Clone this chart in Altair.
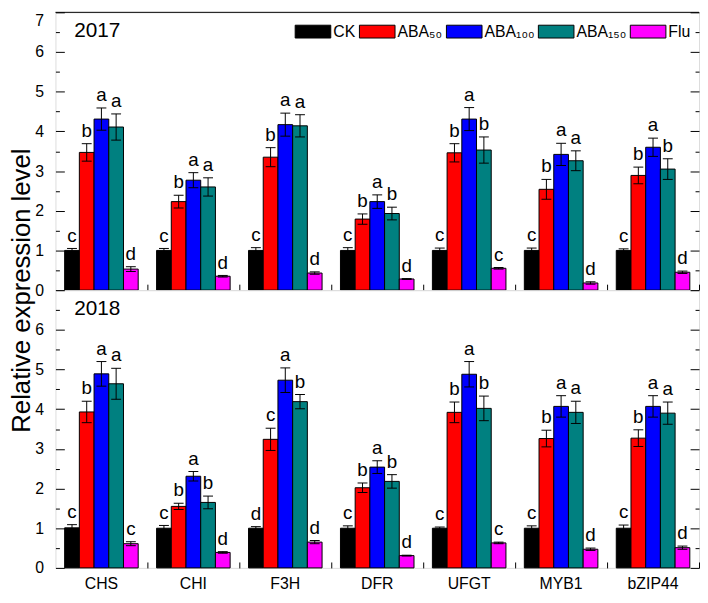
import altair as alt
import pandas as pd

genes = ["CHS", "CHI", "F3H", "DFR", "UFGT", "MYB1", "bZIP44"]
treatments = ["CK", "ABA₅₀", "ABA₁₀₀", "ABA₁₅₀", "Flu"]
colors = ["#000000", "#FF0000", "#0000FF", "#008080", "#FF00FF"]

# 2017 means (rows: treatments, cols: genes)
ck_2017 = [1.00, 1.00, 1.00, 1.00, 1.00, 1.00, 1.00]
aba50_2017 = [3.47, 2.23, 3.35, 1.79, 3.46, 2.54, 2.89]
aba100_2017 = [4.31, 2.77, 4.17, 2.23, 4.31, 3.42, 3.60]
aba150_2017 = [4.11, 2.60, 4.14, 1.93, 3.53, 3.26, 3.05]
flu_2017 = [0.53, 0.35, 0.43, 0.28, 0.55, 0.18, 0.45]
# 2017 errors
ck_err_2017 = [0.05, 0.05, 0.07, 0.07, 0.06, 0.06, 0.04]
aba50_err_2017 = [0.22, 0.16, 0.24, 0.13, 0.23, 0.25, 0.21]
aba100_err_2017 = [0.28, 0.19, 0.29, 0.17, 0.29, 0.28, 0.23]
aba150_err_2017 = [0.33, 0.23, 0.28, 0.16, 0.33, 0.25, 0.26]
flu_err_2017 = [0.06, 0.02, 0.03, 0.01, 0.02, 0.03, 0.03]
# 2017 letters
ck_let_2017 = ["c", "c", "c", "c", "c", "c", "c"]
aba50_let_2017 = ["b", "b", "b", "b", "b", "b", "b"]
aba100_let_2017 = ["a", "a", "a", "a", "a", "a", "a"]
aba150_let_2017 = ["a", "a", "a", "b", "b", "a", "b"]
flu_let_2017 = ["d", "d", "d", "d", "c", "d", "d"]

# 2018 means
ck_2018 = [1.01, 1.00, 1.00, 1.00, 1.00, 1.00, 1.00]
aba50_2018 = [3.93, 1.55, 3.24, 2.02, 3.92, 3.26, 3.27]
aba100_2018 = [4.89, 2.31, 4.73, 2.54, 4.88, 4.07, 4.07]
aba150_2018 = [4.64, 1.65, 4.19, 2.18, 4.02, 3.92, 3.90]
flu_2018 = [0.61, 0.39, 0.65, 0.31, 0.63, 0.47, 0.51]
# 2018 errors
ck_err_2018 = [0.08, 0.07, 0.04, 0.06, 0.03, 0.06, 0.08]
aba50_err_2018 = [0.27, 0.08, 0.28, 0.12, 0.26, 0.21, 0.21]
aba100_err_2018 = [0.31, 0.12, 0.31, 0.16, 0.32, 0.27, 0.27]
aba150_err_2018 = [0.39, 0.16, 0.18, 0.17, 0.31, 0.28, 0.28]
flu_err_2018 = [0.05, 0.02, 0.04, 0.01, 0.02, 0.03, 0.04]
# 2018 letters
ck_let_2018 = ["c", "c", "d", "c", "c", "c", "c"]
aba50_let_2018 = ["b", "b", "c", "b", "b", "b", "b"]
aba100_let_2018 = ["a", "a", "a", "a", "a", "a", "a"]
aba150_let_2018 = ["a", "b", "b", "b", "b", "a", "a"]
flu_let_2018 = ["c", "d", "d", "d", "c", "d", "d"]

y_ticks_major = [0, 1, 2, 3, 4, 5, 6, 7]
y_ticks_minor = [0.5, 1.5, 2.5, 3.5, 4.5, 5.5, 6.5]
y_top = [7]

FONT = "Liberation Sans"
W = 651
H = 281


def build(means, errs, letters):
    rows = []
    for t, m, e, l in zip(treatments, means, errs, letters):
        for g, mv, ev, lv in zip(genes, m, e, l):
            rows.append(dict(gene=g, treatment=t, mean=mv, lo=mv - ev, hi=mv + ev, letter=lv))
    return pd.DataFrame(rows)


df17 = build([ck_2017, aba50_2017, aba100_2017, aba150_2017, flu_2017],
             [ck_err_2017, aba50_err_2017, aba100_err_2017, aba150_err_2017, flu_err_2017],
             [ck_let_2017, aba50_let_2017, aba100_let_2017, aba150_let_2017, flu_let_2017])
df18 = build([ck_2018, aba50_2018, aba100_2018, aba150_2018, flu_2018],
             [ck_err_2018, aba50_err_2018, aba100_err_2018, aba150_err_2018, flu_err_2018],
             [ck_let_2018, aba50_let_2018, aba100_let_2018, aba150_let_2018, flu_let_2018])

x_scale = alt.Scale(domain=genes, paddingInner=0.2, paddingOuter=0.1)
y_scale = alt.Scale(domain=[0, 7], nice=False, zero=True)
xoff = alt.XOffset("treatment:N", sort=treatments,
                   scale=alt.Scale(domain=treatments, paddingInner=0, paddingOuter=0))

legend = alt.Legend(
    orient="none", legendX=242, legendY=1, direction="horizontal", columns=5,
    title=None, symbolType="M-1,-0.36H1V0.36H-1Z", symbolSize=1296,
    symbolStrokeColor="black", symbolStrokeWidth=1, symbolOpacity=1,
    labelFont=FONT, labelFontSize=16, labelColor="black", labelOffset=2,
    columnPadding=1, padding=0,
)
color = alt.Color("treatment:N", sort=treatments,
                  scale=alt.Scale(domain=treatments, range=colors), legend=legend)


def inner_y_axis(orient, values, size):
    return alt.Axis(orient=orient, offset=-W, values=values, tickSize=size, tickColor="black",
                    tickWidth=1, labels=False, domain=False, grid=False, title=None)


def panel(df, year, top):
    base = alt.Chart(df)
    if top:
        x_lab_axis = None
    else:
        x_lab_axis = alt.Axis(orient="bottom", labelFont=FONT, labelFontSize=16, labelColor="black",
                              labelPadding=8, labelAngle=0, ticks=False, tickSize=0, domain=False,
                              grid=False, title=None)
    x_tick_axis = alt.Axis(orient="top", offset=-H, bandPosition=1.125, tickSize=6, tickColor="black",
                           labels=False, domain=False, grid=False, title=None)
    y_lab_axis = alt.Axis(
        orient="left", values=y_ticks_major[:-1], ticks=False, tickSize=0, domain=False, grid=False,
        labelFont=FONT, labelFontSize=16, labelColor="black", labelPadding=12,
        title="Relative expression level" if top else None,
        titleFont=FONT, titleFontSize=26, titleFontWeight="normal", titleColor="black",
        titleX=-26, titleY=H, titleBaseline="alphabetic",
    )
    bars = base.mark_bar(stroke="black", strokeWidth=1).encode(
        x=alt.X("gene:N", sort=genes, scale=x_scale, axis=x_lab_axis),
        xOffset=xoff,
        y=alt.Y("mean:Q", scale=y_scale, axis=y_lab_axis),
        color=color,
    )
    rules = base.mark_rule(color="black", strokeWidth=1).encode(
        x=alt.X("gene:N", sort=genes, scale=x_scale, axis=x_tick_axis),
        xOffset=xoff,
        y=alt.Y("lo:Q", scale=y_scale, axis=inner_y_axis("right", y_ticks_major, 9)),
        y2="hi:Q",
    )
    cap_lo = base.mark_tick(color="black", thickness=1, size=10, opacity=1).encode(
        x=alt.X("gene:N", sort=genes, scale=x_scale, axis=None),
        xOffset=xoff,
        y=alt.Y("lo:Q", scale=y_scale, axis=inner_y_axis("right", y_ticks_minor, 4)),
    )
    cap_hi = base.mark_tick(color="black", thickness=1, size=10, opacity=1).encode(
        x=alt.X("gene:N", sort=genes, scale=x_scale, axis=None),
        xOffset=xoff,
        y=alt.Y("hi:Q", scale=y_scale, axis=inner_y_axis("left", y_ticks_major, 9)),
    )
    letters = base.mark_text(font=FONT, fontSize=19, color="black", baseline="alphabetic", dy=-7).encode(
        x=alt.X("gene:N", sort=genes, scale=x_scale, axis=None),
        xOffset=xoff,
        y=alt.Y("hi:Q", scale=y_scale, axis=inner_y_axis("left", y_ticks_minor, 4)),
        text="letter:N",
    )
    year_txt = alt.Chart(pd.DataFrame({"label": [year]})).mark_text(
        font=FONT, fontSize=21, color="black", align="left", baseline="alphabetic"
    ).encode(x=alt.value(19), y=alt.value(25), text="label:N")
    layers = [bars, rules, cap_lo, cap_hi, letters, year_txt]
    if top:
        top_edge = alt.Chart(pd.DataFrame({"v": y_top})).mark_rule(color="black", strokeWidth=1).encode(
            y=alt.Y("v:Q", scale=y_scale, axis=alt.Axis(
                orient="left", values=y_top, ticks=False, tickSize=0, domain=False, grid=False,
                labelFont=FONT, labelFontSize=16, labelColor="black", labelPadding=12,
                labelBaseline="top", title=None)),
        )
        layers.append(top_edge)
    return alt.layer(*layers).resolve_axis(
        x="independent", y="independent"
    ).properties(width=W, height=H)


top = panel(df17, "2017", True)
bottom = panel(df18, "2018", False)

chart = alt.vconcat(top, bottom, spacing=0, bounds="flush").properties(
    padding={"left": 0, "top": 0, "right": 0, "bottom": -3}
).configure_view(stroke="black", strokeWidth=1.2).configure(background="white")

chart.save("out.html", embed_options={"renderer": "svg", "actions": False})
